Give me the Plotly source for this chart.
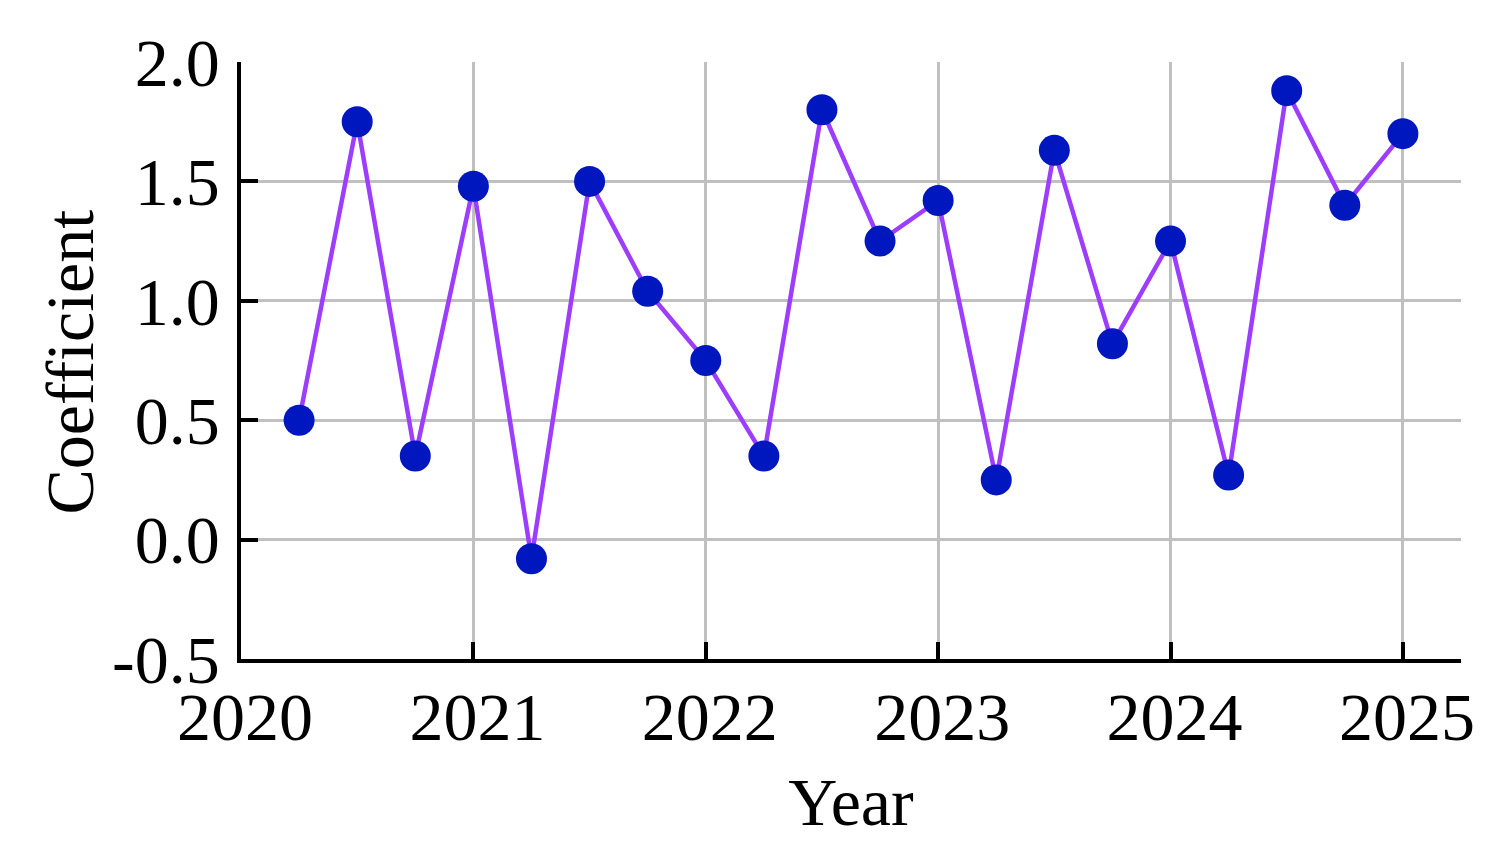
import plotly.graph_objects as go

years = [2020.25, 2020.5, 2020.75, 2021.0, 2021.25, 2021.5, 2021.75, 2022.0,
         2022.25, 2022.5, 2022.75, 2023.0, 2023.25, 2023.5, 2023.75, 2024.0,
         2024.25, 2024.5, 2024.75, 2025.0]
coefficient = [0.50, 1.75, 0.35, 1.48, -0.08, 1.50, 1.04, 0.75,
               0.35, 1.80, 1.25, 1.42, 0.25, 1.63, 0.82, 1.25,
               0.27, 1.88, 1.40, 1.70]

x_tickvals = [2020, 2021, 2022, 2023, 2024, 2025]
x_ticktext = ["2020", "2021", "2022", "2023", "2024", "2025"]
y_tickvals = [-0.5, 0.0, 0.5, 1.0, 1.5, 2.0]
y_ticktext = ["-0.5", "0.0", "0.5", "1.0", "1.5", "2.0"]

FONT = "Liberation Serif, Times New Roman, serif"
FS = 68

fig = go.Figure()
fig.add_trace(go.Scatter(
    x=years, y=coefficient, mode="lines+markers",
    line=dict(color="#9d3dff", width=4.5),
    marker=dict(color="#0016be", size=31, line=dict(width=0)),
    showlegend=False,
))

fig.update_layout(
    width=1491, height=840,
    margin=dict(l=233, r=38, t=54, b=189),
    paper_bgcolor="white", plot_bgcolor="white",
    font=dict(family=FONT, size=FS, color="black"),
    xaxis=dict(
        range=[2020, 2025.25],
        tickvals=x_tickvals, ticktext=x_ticktext,
        showgrid=True, gridcolor="#c0c0c0", gridwidth=2.5,
        showline=True, linecolor="black", linewidth=3.5,
        ticks="inside", ticklen=17, tickwidth=3.5, tickcolor="black",
        zeroline=False,
        ticklabelstandoff=-4,
        ticklabelshift=4,
        title=dict(text="Year", font=dict(family=FONT, size=FS), standoff=24),
        tickfont=dict(family=FONT, size=FS),
    ),
    yaxis=dict(
        range=[-0.5, 2.0],
        tickvals=y_tickvals, ticktext=y_ticktext,
        showgrid=True, gridcolor="#c0c0c0", gridwidth=2.5,
        showline=True, linecolor="black", linewidth=3.5,
        ticks="inside", ticklen=17, tickwidth=3.5, tickcolor="black",
        zeroline=False,
        ticklabelstandoff=4,
        tickfont=dict(family=FONT, size=FS),
    ),
    annotations=[dict(
        text="Coefficient", textangle=-90,
        xref="paper", yref="paper", x=-0.140, y=0.497,
        xanchor="center", yanchor="middle", showarrow=False,
        font=dict(family=FONT, size=FS, color="black"),
    )],
)

fig.write_html("out.html")
